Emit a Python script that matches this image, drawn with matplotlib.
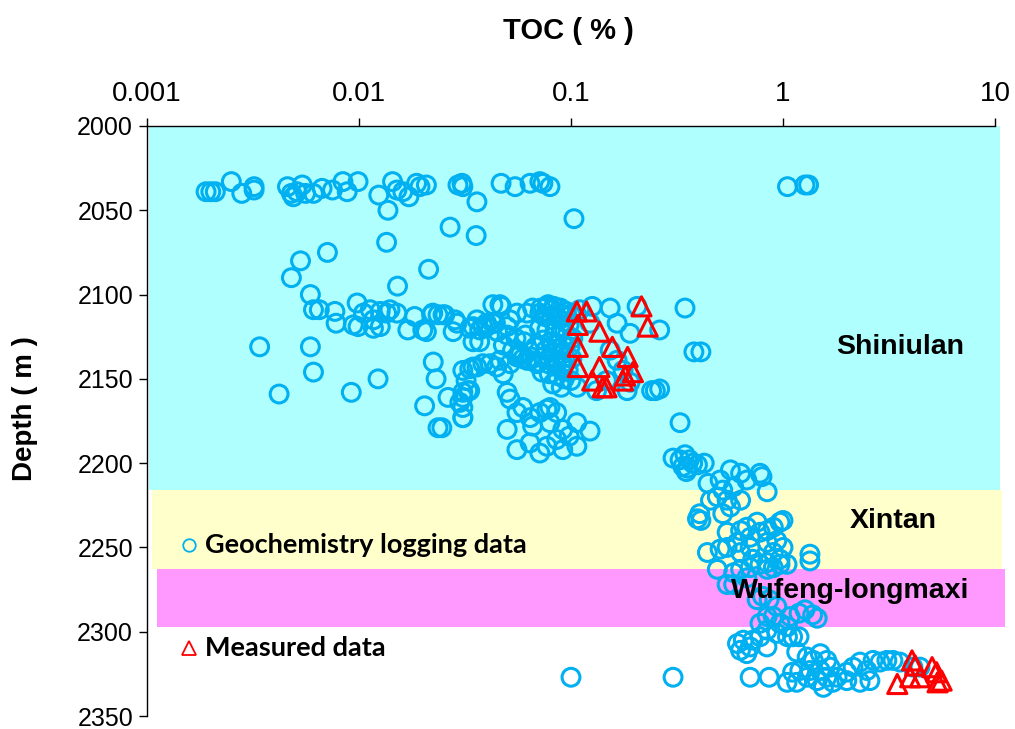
import matplotlib.pyplot as plt
from matplotlib.ticker import FixedLocator, NullLocator, FixedFormatter

# ---- geochemistry logging data (TOC %, depth m) ---------------------------- #
top_toc = [0.0019, 0.002, 0.0021, 0.0025, 0.0028, 0.0032, 0.0032, 0.0046, 0.0048, 0.0049,
           0.0051, 0.0054, 0.0056, 0.0061, 0.0067, 0.0075, 0.0084, 0.0088, 0.0099, 0.0124,
           0.0144, 0.0151, 0.0161, 0.0172, 0.0187, 0.0194, 0.0208, 0.0293, 0.0306, 0.0309,
           0.0468, 0.0545, 0.0641, 0.0713, 0.0737, 0.0796, 1.05, 1.27, 1.32,
           0.0137, 0.036, 0.1033, 0.0269, 0.0357, 0.0135, 0.0071, 0.0053, 0.0213, 0.0048,
           0.0152, 0.0059]
top_depth = [2039, 2039, 2039, 2033, 2040, 2036, 2038, 2036, 2040, 2042,
             2039, 2035, 2040, 2040, 2037, 2038, 2033, 2039, 2033, 2041,
             2033, 2038, 2039, 2042, 2034, 2036, 2035, 2035, 2034, 2036,
             2034, 2036, 2034, 2033, 2034, 2036, 2036, 2035, 2035,
             2050, 2045, 2055, 2060, 2065, 2069, 2075, 2080, 2085, 2090,
             2095, 2100]

left_toc = [0.0061, 0.0065, 0.0077, 0.0078, 0.0098, 0.0094, 0.0099, 0.0105, 0.0113, 0.0117,
            0.0126, 0.0135, 0.0140, 0.0151, 0.0117, 0.0126, 0.0170, 0.0183, 0.0200, 0.0208,
            0.0220, 0.0236, 0.0249, 0.0290, 0.0278, 0.0345, 0.0371, 0.0400, 0.0428, 0.0462,
            0.0500, 0.0345, 0.0371, 0.0034, 0.0059, 0.0061, 0.0042, 0.0092, 0.0123, 0.0224,
            0.0231, 0.0204, 0.0236, 0.0326, 0.0309, 0.0299, 0.0263, 0.0309, 0.05, 0.0479, 0.05]
left_depth = [2109, 2109, 2110, 2117, 2105, 2118, 2119, 2111, 2109, 2115,
              2110, 2111, 2109, 2111, 2120, 2119, 2121, 2113, 2121, 2122,
              2112, 2112, 2112, 2117, 2122, 2119, 2121, 2117, 2106, 2106,
              2119, 2128, 2128, 2131, 2131, 2146, 2159, 2158, 2150, 2140,
              2150, 2166, 2179, 2157, 2161, 2164, 2161, 2173, 2180, 2147, 2158]

cluster_toc = [0.0223, 0.0254, 0.0284, 0.0333, 0.036, 0.0384, 0.0428, 0.047, 0.0516, 0.0556,
               0.062, 0.0659, 0.0713, 0.077, 0.082, 0.089, 0.096,
               0.0309, 0.032, 0.0345, 0.0384, 0.0446, 0.0462, 0.0516, 0.0556, 0.0593, 0.0641,
               0.069, 0.0737, 0.0796, 0.0856, 0.0915, 0.0333, 0.036, 0.0415,
               0.072, 0.078, 0.083, 0.089, 0.095, 0.1, 0.075, 0.081, 0.087, 0.093,
               0.098, 0.071, 0.077, 0.084, 0.09, 0.096, 0.102, 0.074, 0.08, 0.086,
               0.092, 0.099, 0.076, 0.082, 0.088, 0.094, 0.101, 0.07, 0.078, 0.085,
               0.091, 0.097, 0.073, 0.079, 0.086, 0.093, 0.1, 0.082, 0.09, 0.065,
               0.068, 0.061, 0.058, 0.045, 0.05, 0.055, 0.06, 0.048, 0.053, 0.057,
               0.062, 0.044, 0.04]
cluster_depth = [2111, 2112, 2115, 2120, 2115, 2119, 2117, 2107, 2115, 2111,
                 2111, 2108, 2111, 2107, 2109, 2111, 2113,
                 2145, 2151, 2143, 2141, 2143, 2139, 2141, 2137, 2138, 2139,
                 2141, 2137, 2139, 2139, 2141, 2144, 2143, 2141,
                 2108, 2106, 2107, 2108, 2110, 2112, 2113, 2115, 2114, 2116,
                 2118, 2120, 2121, 2122, 2121, 2124, 2126, 2127, 2128, 2129,
                 2130, 2131, 2133, 2134, 2135, 2137, 2138, 2140, 2141, 2142,
                 2143, 2145, 2146, 2147, 2148, 2150, 2151, 2153, 2155, 2137,
                 2131, 2124, 2135, 2122, 2124, 2126, 2128, 2130, 2133, 2136,
                 2139, 2117, 2119]

below_toc = [0.0309, 0.0309, 0.0333, 0.0309, 0.0246, 0.0516, 0.0556, 0.0593, 0.0641, 0.0659,
             0.0713, 0.077, 0.0796, 0.0856, 0.0796, 0.0915, 0.098, 0.0856, 0.1066, 0.123,
             0.1066, 0.0556, 0.0641, 0.0713, 0.077, 0.0915]
below_depth = [2158, 2167, 2157, 2173, 2179, 2162, 2170, 2167, 2173, 2178,
               2170, 2168, 2167, 2170, 2176, 2180, 2184, 2186, 2176, 2181,
               2190, 2192, 2188, 2194, 2190, 2192]

right_toc = [0.126, 0.153, 0.205, 0.165, 0.19, 0.262, 0.345, 0.11, 0.123, 0.153,
             0.165, 0.176, 0.19, 0.184, 0.107, 0.132, 0.147, 0.24, 0.25, 0.262,
             0.38, 0.41, 0.327]
right_depth = [2107, 2108, 2107, 2117, 2123, 2121, 2108, 2109, 2117, 2133,
               2139, 2145, 2152, 2157, 2155, 2157, 2151, 2157, 2157, 2156,
               2134, 2134, 2176]

trans_toc = [0.303, 0.327, 0.345, 0.362, 0.337, 0.354, 0.375, 0.395, 0.425, 0.35,
             0.443, 0.505, 0.565, 0.631, 0.675, 0.779, 0.796, 0.842, 0.52, 0.585,
             0.49, 0.455, 0.545, 0.631, 0.565, 0.52, 0.405, 0.395, 0.41,
             0.545, 0.631, 0.675, 0.755, 0.70, 0.779, 0.842, 0.90, 0.968, 1.0,
             0.61, 0.505, 0.545, 0.631, 0.70, 0.842, 0.935, 1.0, 0.90, 0.72,
             0.842, 0.968, 0.44, 1.34]
trans_depth = [2197, 2198, 2195, 2198, 2202, 2203, 2200, 2201, 2200, 2205,
               2212, 2210, 2204, 2206, 2210, 2206, 2208, 2217, 2216, 2214,
               2220, 2222, 2222, 2222, 2226, 2230, 2230, 2233, 2234,
               2241, 2240, 2238, 2235, 2244, 2241, 2240, 2238, 2235, 2234,
               2247, 2251, 2250, 2253, 2250, 2247, 2246, 2250, 2253, 2257,
               2259, 2257, 2253, 2254]

low_toc = [0.49, 0.585, 0.631, 0.70, 0.779, 0.842, 0.90, 0.968, 1.045, 1.34,
           0.545, 0.585, 0.675,
           0.755, 0.80, 0.86, 0.935, 0.842, 0.90, 0.968, 1.05, 0.779, 0.842, 0.935,
           1.05, 1.11, 1.19, 1.38, 1.45, 1.27, 1.19, 1.08,
           0.61, 0.65, 0.63, 0.675, 0.72, 0.78, 0.84, 0.70,
           1.16, 1.30, 1.39, 1.50, 1.61, 1.67, 1.50, 1.34, 1.20, 1.11,
           1.045, 1.16, 1.30, 1.45, 1.61, 1.80, 2.0, 2.14, 2.31, 2.49,
           2.66, 2.87, 3.09, 3.30, 3.56, 4.10, 4.43, 2.31, 2.0, 1.72,
           1.55, 2.57, 0.1, 0.303, 0.70, 0.86]
low_depth = [2263, 2265, 2263, 2262, 2260, 2263, 2262, 2260, 2260, 2258,
             2272, 2272, 2268,
             2281, 2279, 2281, 2285, 2291, 2291, 2295, 2297, 2295, 2299, 2301,
             2303, 2303, 2303, 2290, 2292, 2287, 2289, 2291,
             2307, 2305, 2311, 2313, 2305, 2303, 2309, 2309,
             2312, 2315, 2317, 2313, 2317, 2321, 2323, 2323, 2323, 2324,
             2330, 2330, 2327, 2329, 2327, 2327, 2324, 2321, 2318, 2323,
             2317, 2318, 2317, 2317, 2318, 2321, 2321, 2330, 2329, 2330,
             2333, 2329, 2327, 2327, 2327, 2327]

# ---- measured data --------------------------------------------------------- #
meas_toc = [0.1066, 0.1185, 0.1077, 0.1362, 0.1567, 0.1077, 0.185, 0.1077, 0.1362, 0.126,
            0.141, 0.147, 0.180, 0.196, 0.176, 0.215, 0.230,
            3.46, 4.06, 4.2, 3.98, 4.43, 5.05, 5.3, 5.36, 5.6]
meas_depth = [2110, 2110, 2118, 2122, 2131, 2131, 2137, 2143, 2143, 2151,
              2155, 2155, 2148, 2146, 2151, 2107, 2119,
              2331, 2317, 2320, 2327, 2327, 2321, 2324, 2330, 2329]

# formations: (name, top, bottom, colour)
FORMATIONS = [("Shiniulan", 2000, 2216, "#AFFFFF"),
              ("Xintan", 2216, 2263, "#FFFFCC"),
              ("Wufeng-longmaxi", 2263, 2297, "#FF99FF")]
X_TICKS = [0.001, 0.01, 0.1, 1, 10]
X_LABELS = ["0.001", "0.01", "0.1", "1", "10"]
Y_TICKS = list(range(2000, 2351, 50))

BLUE, RED = "#00B0F0", "#FF0000"
plt.rcParams["font.family"] = ["Liberation Sans", "DejaVu Sans"]

geo_toc = top_toc + left_toc + cluster_toc + below_toc + right_toc + trans_toc + low_toc
geo_depth = top_depth + left_depth + cluster_depth + below_depth + right_depth + trans_depth + low_depth

fig = plt.figure(figsize=(10.15, 7.29), dpi=100)
ax = fig.add_axes([0.1448, 0.0178, 0.8355, 0.8094])
ax.set_xscale("log")
ax.set_xlim(0.001, 10)
ax.set_ylim(2350, 2000)

band_x = [(0.002, 1.006), (0.006, 1.008), (0.012, 1.012)]
for (name, top, bot, col), (x0, x1) in zip(FORMATIONS, band_x):
    ax.axhspan(top, bot, xmin=x0, xmax=x1, color=col, lw=0, zorder=0, clip_on=False)

ax.scatter(geo_toc, geo_depth, s=165, facecolors="none", edgecolors=BLUE,
           linewidths=2.2, zorder=3, clip_on=False)
ax.scatter(meas_toc, meas_depth, s=190, marker="^", facecolors="none", edgecolors=RED,
           linewidths=2.2, zorder=4, clip_on=False)

# formation labels
lab_pos = [(0.888, 0.625), (0.880, 0.331), (0.829, 0.212)]
for (name, *_), (lx, ly) in zip(FORMATIONS, lab_pos):
    ax.text(lx, ly, name, transform=ax.transAxes, ha="center", va="center",
            fontsize=20.5, fontweight="bold", color="black", zorder=5)

# hand-made legend
ax.plot([0.0495], [0.290], "o", transform=ax.transAxes, ms=9, mfc="none",
        mec=BLUE, mew=1.3, zorder=5, clip_on=False)
ax.text(0.0684, 0.290, "Geochemistry logging data", transform=ax.transAxes,
        ha="left", va="center", fontsize=19.5, fontweight="bold",
        family=["Lato", "DejaVu Sans"], zorder=5)
ax.plot([0.0495], [0.115], "^", transform=ax.transAxes, ms=10, mfc="none",
        mec=RED, mew=1.3, zorder=5, clip_on=False)
ax.text(0.0684, 0.115, "Measured data", transform=ax.transAxes,
        ha="left", va="center", fontsize=19.5, fontweight="bold",
        family=["Lato", "DejaVu Sans"], zorder=5)

# axes styling: top x-axis, left y-axis only
ax.spines[["right", "bottom"]].set_visible(False)
ax.spines["top"].set_linewidth(1.0)
ax.spines["left"].set_linewidth(1.0)
ax.xaxis.tick_top()
ax.xaxis.set_major_locator(FixedLocator(X_TICKS))
ax.xaxis.set_major_formatter(FixedFormatter(X_LABELS))
ax.xaxis.set_minor_locator(NullLocator())
ax.set_yticks(Y_TICKS)
ax.tick_params(axis="x", direction="out", length=6, width=1, pad=8, labelsize=20)
ax.tick_params(axis="y", direction="out", length=6, width=1, pad=4, labelsize=18)

fig.text(0.5605, 0.958, "TOC ( % )", ha="center", va="center", fontsize=21, fontweight="bold")
fig.text(0.025, 0.44, "Depth ( m )", ha="center", va="center", rotation=90,
         fontsize=20, fontweight="bold")

fig.savefig("out.png", dpi=100)
